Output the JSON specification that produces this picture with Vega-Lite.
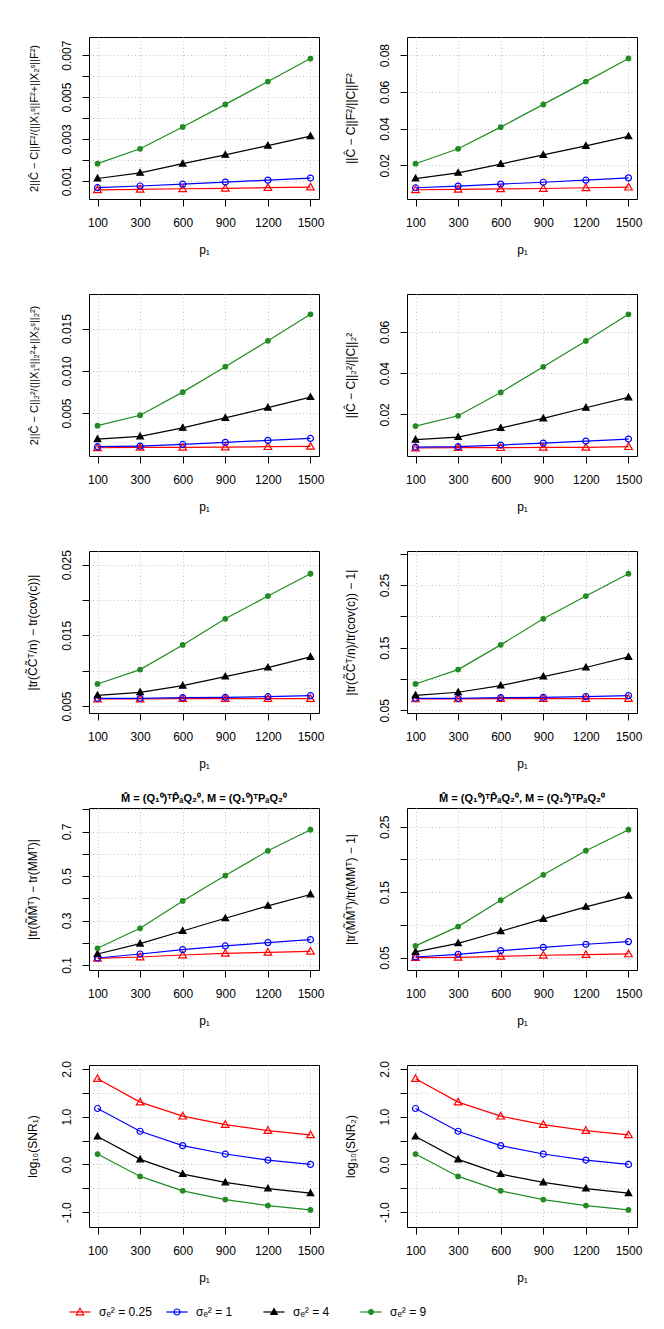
{
"$schema": "https://vega.github.io/schema/vega-lite/v6.json",
"padding": {"left": 25, "top": 36, "right": 10, "bottom": 5},
"background": "white",
"datasets": {"d": [
{"k":1,"s":"0.25","p":100,"v":0.00057},{"k":1,"s":"0.25","p":300,"v":0.00059},{"k":1,"s":"0.25","p":600,"v":0.00062},{"k":1,"s":"0.25","p":900,"v":0.00064},{"k":1,"s":"0.25","p":1200,"v":0.00067},{"k":1,"s":"0.25","p":1500,"v":0.0007},
{"k":1,"s":"1","p":100,"v":0.00067},{"k":1,"s":"1","p":300,"v":0.00075},{"k":1,"s":"1","p":600,"v":0.00084},{"k":1,"s":"1","p":900,"v":0.00094},{"k":1,"s":"1","p":1200,"v":0.00103},{"k":1,"s":"1","p":1500,"v":0.00113},
{"k":1,"s":"4","p":100,"v":0.00111},{"k":1,"s":"4","p":300,"v":0.00138},{"k":1,"s":"4","p":600,"v":0.00182},{"k":1,"s":"4","p":900,"v":0.00224},{"k":1,"s":"4","p":1200,"v":0.00268},{"k":1,"s":"4","p":1500,"v":0.00313},
{"k":1,"s":"9","p":100,"v":0.00182},{"k":1,"s":"9","p":300,"v":0.00253},{"k":1,"s":"9","p":600,"v":0.00357},{"k":1,"s":"9","p":900,"v":0.00465},{"k":1,"s":"9","p":1200,"v":0.00574},{"k":1,"s":"9","p":1500,"v":0.00684},
{"k":2,"s":"0.25","p":100,"v":0.0067},{"k":2,"s":"0.25","p":300,"v":0.0069},{"k":2,"s":"0.25","p":600,"v":0.0072},{"k":2,"s":"0.25","p":900,"v":0.0074},{"k":2,"s":"0.25","p":1200,"v":0.0078},{"k":2,"s":"0.25","p":1500,"v":0.0081},
{"k":2,"s":"1","p":100,"v":0.0078},{"k":2,"s":"1","p":300,"v":0.0087},{"k":2,"s":"1","p":600,"v":0.0098},{"k":2,"s":"1","p":900,"v":0.0108},{"k":2,"s":"1","p":1200,"v":0.0119},{"k":2,"s":"1","p":1500,"v":0.0132},
{"k":2,"s":"4","p":100,"v":0.0128},{"k":2,"s":"4","p":300,"v":0.0159},{"k":2,"s":"4","p":600,"v":0.0207},{"k":2,"s":"4","p":900,"v":0.0257},{"k":2,"s":"4","p":1200,"v":0.0306},{"k":2,"s":"4","p":1500,"v":0.0358},
{"k":2,"s":"9","p":100,"v":0.0209},{"k":2,"s":"9","p":300,"v":0.029},{"k":2,"s":"9","p":600,"v":0.0408},{"k":2,"s":"9","p":900,"v":0.0532},{"k":2,"s":"9","p":1200,"v":0.0656},{"k":2,"s":"9","p":1500,"v":0.0782},
{"k":3,"s":"0.25","p":100,"v":0.00088},{"k":3,"s":"0.25","p":300,"v":0.00092},{"k":3,"s":"0.25","p":600,"v":0.00092},{"k":3,"s":"0.25","p":900,"v":0.00096},{"k":3,"s":"0.25","p":1200,"v":0.001},{"k":3,"s":"0.25","p":1500,"v":0.00104},
{"k":3,"s":"1","p":100,"v":0.001},{"k":3,"s":"1","p":300,"v":0.00108},{"k":3,"s":"1","p":600,"v":0.00127},{"k":3,"s":"1","p":900,"v":0.00151},{"k":3,"s":"1","p":1200,"v":0.00175},{"k":3,"s":"1","p":1500,"v":0.00198},
{"k":3,"s":"4","p":100,"v":0.0019},{"k":3,"s":"4","p":300,"v":0.00222},{"k":3,"s":"4","p":600,"v":0.00324},{"k":3,"s":"4","p":900,"v":0.00441},{"k":3,"s":"4","p":1200,"v":0.00563},{"k":3,"s":"4","p":1500,"v":0.00688},
{"k":3,"s":"9","p":100,"v":0.0035},{"k":3,"s":"9","p":300,"v":0.00473},{"k":3,"s":"9","p":600,"v":0.00747},{"k":3,"s":"9","p":900,"v":0.01049},{"k":3,"s":"9","p":1200,"v":0.01355},{"k":3,"s":"9","p":1500,"v":0.01669},
{"k":4,"s":"0.25","p":100,"v":0.00371},{"k":4,"s":"0.25","p":300,"v":0.00387},{"k":4,"s":"0.25","p":600,"v":0.00387},{"k":4,"s":"0.25","p":900,"v":0.00403},{"k":4,"s":"0.25","p":1200,"v":0.00403},{"k":4,"s":"0.25","p":1500,"v":0.00435},
{"k":4,"s":"1","p":100,"v":0.00419},{"k":4,"s":"1","p":300,"v":0.00435},{"k":4,"s":"1","p":600,"v":0.00516},{"k":4,"s":"1","p":900,"v":0.00613},{"k":4,"s":"1","p":1200,"v":0.0071},{"k":4,"s":"1","p":1500,"v":0.00806},
{"k":4,"s":"4","p":100,"v":0.00774},{"k":4,"s":"4","p":300,"v":0.00903},{"k":4,"s":"4","p":600,"v":0.01339},{"k":4,"s":"4","p":900,"v":0.01806},{"k":4,"s":"4","p":1200,"v":0.02323},{"k":4,"s":"4","p":1500,"v":0.02823},
{"k":4,"s":"9","p":100,"v":0.01435},{"k":4,"s":"9","p":300,"v":0.01935},{"k":4,"s":"9","p":600,"v":0.03065},{"k":4,"s":"9","p":900,"v":0.0431},{"k":4,"s":"9","p":1200,"v":0.05565},{"k":4,"s":"9","p":1500,"v":0.06855},
{"k":5,"s":"0.25","p":100,"v":0.00599},{"k":5,"s":"0.25","p":300,"v":0.00599},{"k":5,"s":"0.25","p":600,"v":0.00604},{"k":5,"s":"0.25","p":900,"v":0.00604},{"k":5,"s":"0.25","p":1200,"v":0.00604},{"k":5,"s":"0.25","p":1500,"v":0.00604},
{"k":5,"s":"1","p":100,"v":0.00609},{"k":5,"s":"1","p":300,"v":0.00609},{"k":5,"s":"1","p":600,"v":0.00618},{"k":5,"s":"1","p":900,"v":0.00623},{"k":5,"s":"1","p":1200,"v":0.00632},{"k":5,"s":"1","p":1500,"v":0.00647},
{"k":5,"s":"4","p":100,"v":0.00651},{"k":5,"s":"4","p":300,"v":0.00694},{"k":5,"s":"4","p":600,"v":0.00788},{"k":5,"s":"4","p":900,"v":0.00916},{"k":5,"s":"4","p":1200,"v":0.01044},{"k":5,"s":"4","p":1500,"v":0.01195},
{"k":5,"s":"9","p":100,"v":0.00812},{"k":5,"s":"9","p":300,"v":0.01015},{"k":5,"s":"9","p":600,"v":0.01365},{"k":5,"s":"9","p":900,"v":0.01734},{"k":5,"s":"9","p":1200,"v":0.02056},{"k":5,"s":"9","p":1500,"v":0.02372},
{"k":6,"s":"0.25","p":100,"v":0.0681},{"k":6,"s":"0.25","p":300,"v":0.0681},{"k":6,"s":"0.25","p":600,"v":0.0687},{"k":6,"s":"0.25","p":900,"v":0.0687},{"k":6,"s":"0.25","p":1200,"v":0.0687},{"k":6,"s":"0.25","p":1500,"v":0.0687},
{"k":6,"s":"1","p":100,"v":0.0692},{"k":6,"s":"1","p":300,"v":0.0692},{"k":6,"s":"1","p":600,"v":0.0703},{"k":6,"s":"1","p":900,"v":0.0708},{"k":6,"s":"1","p":1200,"v":0.0719},{"k":6,"s":"1","p":1500,"v":0.0735},
{"k":6,"s":"4","p":100,"v":0.074},{"k":6,"s":"4","p":300,"v":0.0788},{"k":6,"s":"4","p":600,"v":0.0895},{"k":6,"s":"4","p":900,"v":0.1039},{"k":6,"s":"4","p":1200,"v":0.1183},{"k":6,"s":"4","p":1500,"v":0.1353},
{"k":6,"s":"9","p":100,"v":0.0921},{"k":6,"s":"9","p":300,"v":0.115},{"k":6,"s":"9","p":600,"v":0.1545},{"k":6,"s":"9","p":900,"v":0.1961},{"k":6,"s":"9","p":1200,"v":0.2324},{"k":6,"s":"9","p":1500,"v":0.2681},
{"k":7,"s":"0.25","p":100,"v":0.13},{"k":7,"s":"0.25","p":300,"v":0.136},{"k":7,"s":"0.25","p":600,"v":0.145},{"k":7,"s":"0.25","p":900,"v":0.1525},{"k":7,"s":"0.25","p":1200,"v":0.157},{"k":7,"s":"0.25","p":1500,"v":0.1616},
{"k":7,"s":"1","p":100,"v":0.1315},{"k":7,"s":"1","p":300,"v":0.1495},{"k":7,"s":"1","p":600,"v":0.169},{"k":7,"s":"1","p":900,"v":0.1856},{"k":7,"s":"1","p":1200,"v":0.2006},{"k":7,"s":"1","p":1500,"v":0.214},
{"k":7,"s":"4","p":100,"v":0.1495},{"k":7,"s":"4","p":300,"v":0.196},{"k":7,"s":"4","p":600,"v":0.253},{"k":7,"s":"4","p":900,"v":0.31},{"k":7,"s":"4","p":1200,"v":0.366},{"k":7,"s":"4","p":1500,"v":0.417},
{"k":7,"s":"9","p":100,"v":0.175},{"k":7,"s":"9","p":300,"v":0.265},{"k":7,"s":"9","p":600,"v":0.388},{"k":7,"s":"9","p":900,"v":0.502},{"k":7,"s":"9","p":1200,"v":0.6135},{"k":7,"s":"9","p":1500,"v":0.708},
{"k":8,"s":"0.25","p":100,"v":0.05},{"k":8,"s":"0.25","p":300,"v":0.0505},{"k":8,"s":"0.25","p":600,"v":0.052},{"k":8,"s":"0.25","p":900,"v":0.0536},{"k":8,"s":"0.25","p":1200,"v":0.0546},{"k":8,"s":"0.25","p":1500,"v":0.0556},
{"k":8,"s":"1","p":100,"v":0.051},{"k":8,"s":"1","p":300,"v":0.0551},{"k":8,"s":"1","p":600,"v":0.0607},{"k":8,"s":"1","p":900,"v":0.0658},{"k":8,"s":"1","p":1200,"v":0.0704},{"k":8,"s":"1","p":1500,"v":0.0745},
{"k":8,"s":"4","p":100,"v":0.0587},{"k":8,"s":"4","p":300,"v":0.0719},{"k":8,"s":"4","p":600,"v":0.0903},{"k":8,"s":"4","p":900,"v":0.1092},{"k":8,"s":"4","p":1200,"v":0.1276},{"k":8,"s":"4","p":1500,"v":0.1444},
{"k":8,"s":"9","p":100,"v":0.0679},{"k":8,"s":"9","p":300,"v":0.0974},{"k":8,"s":"9","p":600,"v":0.1378},{"k":8,"s":"9","p":900,"v":0.1765},{"k":8,"s":"9","p":1200,"v":0.2133},{"k":8,"s":"9","p":1500,"v":0.2454},
{"k":9,"s":"0.25","p":100,"v":1.794},{"k":9,"s":"0.25","p":300,"v":1.303},{"k":9,"s":"0.25","p":600,"v":1.009},{"k":9,"s":"0.25","p":900,"v":0.834},{"k":9,"s":"0.25","p":1200,"v":0.708},{"k":9,"s":"0.25","p":1500,"v":0.617},
{"k":9,"s":"1","p":100,"v":1.17},{"k":9,"s":"1","p":300,"v":0.694},{"k":9,"s":"1","p":600,"v":0.392},{"k":9,"s":"1","p":900,"v":0.217},{"k":9,"s":"1","p":1200,"v":0.091},{"k":9,"s":"1","p":1500,"v":0.0},
{"k":9,"s":"4","p":100,"v":0.582},{"k":9,"s":"4","p":300,"v":0.105},{"k":9,"s":"4","p":600,"v":-0.203},{"k":9,"s":"4","p":900,"v":-0.378},{"k":9,"s":"4","p":1200,"v":-0.505},{"k":9,"s":"4","p":1500,"v":-0.603},
{"k":9,"s":"9","p":100,"v":0.217},{"k":9,"s":"9","p":300,"v":-0.252},{"k":9,"s":"9","p":600,"v":-0.554},{"k":9,"s":"9","p":900,"v":-0.736},{"k":9,"s":"9","p":1200,"v":-0.862},{"k":9,"s":"9","p":1500,"v":-0.953},
{"k":10,"s":"0.25","p":100,"v":1.794},{"k":10,"s":"0.25","p":300,"v":1.303},{"k":10,"s":"0.25","p":600,"v":1.009},{"k":10,"s":"0.25","p":900,"v":0.834},{"k":10,"s":"0.25","p":1200,"v":0.708},{"k":10,"s":"0.25","p":1500,"v":0.617},
{"k":10,"s":"1","p":100,"v":1.17},{"k":10,"s":"1","p":300,"v":0.694},{"k":10,"s":"1","p":600,"v":0.392},{"k":10,"s":"1","p":900,"v":0.217},{"k":10,"s":"1","p":1200,"v":0.091},{"k":10,"s":"1","p":1500,"v":0.0},
{"k":10,"s":"4","p":100,"v":0.582},{"k":10,"s":"4","p":300,"v":0.105},{"k":10,"s":"4","p":600,"v":-0.203},{"k":10,"s":"4","p":900,"v":-0.378},{"k":10,"s":"4","p":1200,"v":-0.505},{"k":10,"s":"4","p":1500,"v":-0.603},
{"k":10,"s":"9","p":100,"v":0.217},{"k":10,"s":"9","p":300,"v":-0.252},{"k":10,"s":"9","p":600,"v":-0.554},{"k":10,"s":"9","p":900,"v":-0.736},{"k":10,"s":"9","p":1200,"v":-0.862},{"k":10,"s":"9","p":1500,"v":-0.953}
],
"leg": [
{"s":"0.25","label":"σₑ² = 0.25"},{"s":"1","label":"σₑ² = 1"},{"s":"4","label":"σₑ² = 4"},{"s":"9","label":"σₑ² = 9"}
]},
"spacing": 18,
"resolve": {"scale": {"stroke": "shared", "fill": "shared", "shape": "shared"}},
"vconcat": [
{"data": {"name": "d"},
"columns": 2,
"bounds": "flush",
"spacing": {"row": 95, "column": 88},
"resolve": {"scale": {"x": "independent", "y": "independent", "stroke": "shared", "fill": "shared", "shape": "shared"}},
"concat": [
{"width": 230, "height": 162, "transform": [{"filter": "datum.k == 1"}],
 "encoding": {
  "x": {"field": "p", "type": "ordinal", "scale": {"type": "point", "padding": 0.2, "domain": [100,300,600,900,1200,1500]}, "axis": {"title": "p₁"}},
  "y": {"field": "v", "type": "quantitative", "scale": {"domain": [0.00013, 0.00787], "nice": false, "zero": false}, "axis": {"title": "2||Ĉ − C||F²/(||X₁ˢ||F²+||X₂ˢ||F²)", "titleFontSize": 11, "values": [0.001,0.002,0.003,0.004,0.005,0.006,0.007], "labelExpr": "round(datum.value*1000) % 2 == 1 ? format(datum.value, '.3f') : ''"}},
  "stroke": {"field": "s", "type": "nominal", "scale": {"domain": ["0.25","1","4","9"], "range": ["#FF0000","#0000FF","#000000","#228B22"]}, "legend": null}
 },
 "layer": [
  {"mark": {"type": "line", "strokeWidth": 1.2}},
  {"mark": {"type": "point", "filled": true, "size": 64, "strokeWidth": 1.2, "opacity": 1},
   "encoding": {
    "fill": {"field": "s", "type": "nominal", "scale": {"domain": ["0.25","1","4","9"], "range": ["transparent","transparent","#000000","#228B22"]}, "legend": null},
    "shape": {"field": "s", "type": "nominal", "scale": {"domain": ["0.25","1","4","9"], "range": ["M0,-0.95L0.95,0.7L-0.95,0.7Z","M0.75,0A0.75,0.75,0,1,1,-0.75,0A0.75,0.75,0,1,1,0.75,0Z","M0,-0.85L0.82,0.6L-0.82,0.6Z","M0.57,0A0.57,0.57,0,1,1,-0.57,0A0.57,0.57,0,1,1,0.57,0Z"]}, "legend": null}}}
 ]},
{"width": 230, "height": 162, "transform": [{"filter": "datum.k == 2"}],
 "encoding": {
  "x": {"field": "p", "type": "ordinal", "scale": {"type": "point", "padding": 0.2, "domain": [100,300,600,900,1200,1500]}, "axis": {"title": "p₁"}},
  "y": {"field": "v", "type": "quantitative", "scale": {"domain": [0.00167, 0.0899], "nice": false, "zero": false}, "axis": {"title": "||Ĉ − C||F²/||C||F²", "values": [0.02,0.04,0.06,0.08], "labelExpr": "format(datum.value, '.2f')"}},
  "stroke": {"field": "s", "type": "nominal", "scale": {"domain": ["0.25","1","4","9"], "range": ["#FF0000","#0000FF","#000000","#228B22"]}, "legend": null}
 },
 "layer": [
  {"mark": {"type": "line", "strokeWidth": 1.2}},
  {"mark": {"type": "point", "filled": true, "size": 64, "strokeWidth": 1.2, "opacity": 1},
   "encoding": {
    "fill": {"field": "s", "type": "nominal", "scale": {"domain": ["0.25","1","4","9"], "range": ["transparent","transparent","#000000","#228B22"]}, "legend": null},
    "shape": {"field": "s", "type": "nominal", "scale": {"domain": ["0.25","1","4","9"], "range": ["M0,-0.95L0.95,0.7L-0.95,0.7Z","M0.75,0A0.75,0.75,0,1,1,-0.75,0A0.75,0.75,0,1,1,0.75,0Z","M0,-0.85L0.82,0.6L-0.82,0.6Z","M0.57,0A0.57,0.57,0,1,1,-0.57,0A0.57,0.57,0,1,1,0.57,0Z"]}, "legend": null}}}
 ]},
{"width": 230, "height": 162, "transform": [{"filter": "datum.k == 3"}],
 "encoding": {
  "x": {"field": "p", "type": "ordinal", "scale": {"type": "point", "padding": 0.2, "domain": [100,300,600,900,1200,1500]}, "axis": {"title": "p₁"}},
  "y": {"field": "v", "type": "quantitative", "scale": {"domain": [-0.0001, 0.0191], "nice": false, "zero": false}, "axis": {"title": "2||Ĉ − C||₂²/(||X₁ˢ||₂²+||X₂ˢ||₂²)", "titleFontSize": 11, "values": [0.005,0.01,0.015], "labelExpr": "format(datum.value, '.3f')"}},
  "stroke": {"field": "s", "type": "nominal", "scale": {"domain": ["0.25","1","4","9"], "range": ["#FF0000","#0000FF","#000000","#228B22"]}, "legend": null}
 },
 "layer": [
  {"mark": {"type": "line", "strokeWidth": 1.2}},
  {"mark": {"type": "point", "filled": true, "size": 64, "strokeWidth": 1.2, "opacity": 1},
   "encoding": {
    "fill": {"field": "s", "type": "nominal", "scale": {"domain": ["0.25","1","4","9"], "range": ["transparent","transparent","#000000","#228B22"]}, "legend": null},
    "shape": {"field": "s", "type": "nominal", "scale": {"domain": ["0.25","1","4","9"], "range": ["M0,-0.95L0.95,0.7L-0.95,0.7Z","M0.75,0A0.75,0.75,0,1,1,-0.75,0A0.75,0.75,0,1,1,0.75,0Z","M0,-0.85L0.82,0.6L-0.82,0.6Z","M0.57,0A0.57,0.57,0,1,1,-0.57,0A0.57,0.57,0,1,1,0.57,0Z"]}, "legend": null}}}
 ]},
{"width": 230, "height": 162, "transform": [{"filter": "datum.k == 4"}],
 "encoding": {
  "x": {"field": "p", "type": "ordinal", "scale": {"type": "point", "padding": 0.2, "domain": [100,300,600,900,1200,1500]}, "axis": {"title": "p₁"}},
  "y": {"field": "v", "type": "quantitative", "scale": {"domain": [-0.00016, 0.0784], "nice": false, "zero": false}, "axis": {"title": "||Ĉ − C||₂²/||C||₂²", "values": [0.02,0.04,0.06], "labelExpr": "format(datum.value, '.2f')"}},
  "stroke": {"field": "s", "type": "nominal", "scale": {"domain": ["0.25","1","4","9"], "range": ["#FF0000","#0000FF","#000000","#228B22"]}, "legend": null}
 },
 "layer": [
  {"mark": {"type": "line", "strokeWidth": 1.2}},
  {"mark": {"type": "point", "filled": true, "size": 64, "strokeWidth": 1.2, "opacity": 1},
   "encoding": {
    "fill": {"field": "s", "type": "nominal", "scale": {"domain": ["0.25","1","4","9"], "range": ["transparent","transparent","#000000","#228B22"]}, "legend": null},
    "shape": {"field": "s", "type": "nominal", "scale": {"domain": ["0.25","1","4","9"], "range": ["M0,-0.95L0.95,0.7L-0.95,0.7Z","M0.75,0A0.75,0.75,0,1,1,-0.75,0A0.75,0.75,0,1,1,0.75,0Z","M0,-0.85L0.82,0.6L-0.82,0.6Z","M0.57,0A0.57,0.57,0,1,1,-0.57,0A0.57,0.57,0,1,1,0.57,0Z"]}, "legend": null}}}
 ]},
{"width": 230, "height": 162, "transform": [{"filter": "datum.k == 5"}],
 "encoding": {
  "x": {"field": "p", "type": "ordinal", "scale": {"type": "point", "padding": 0.2, "domain": [100,300,600,900,1200,1500]}, "axis": {"title": "p₁"}},
  "y": {"field": "v", "type": "quantitative", "scale": {"domain": [0.00401, 0.02694], "nice": false, "zero": false}, "axis": {"title": "|tr(C̃C̃ᵀ/n) − tr(cov(c))|", "values": [0.005,0.01,0.015,0.02,0.025], "labelExpr": "round(datum.value*200) % 2 == 1 ? format(datum.value, '.3f') : ''"}},
  "stroke": {"field": "s", "type": "nominal", "scale": {"domain": ["0.25","1","4","9"], "range": ["#FF0000","#0000FF","#000000","#228B22"]}, "legend": null}
 },
 "layer": [
  {"mark": {"type": "line", "strokeWidth": 1.2}},
  {"mark": {"type": "point", "filled": true, "size": 64, "strokeWidth": 1.2, "opacity": 1},
   "encoding": {
    "fill": {"field": "s", "type": "nominal", "scale": {"domain": ["0.25","1","4","9"], "range": ["transparent","transparent","#000000","#228B22"]}, "legend": null},
    "shape": {"field": "s", "type": "nominal", "scale": {"domain": ["0.25","1","4","9"], "range": ["M0,-0.95L0.95,0.7L-0.95,0.7Z","M0.75,0A0.75,0.75,0,1,1,-0.75,0A0.75,0.75,0,1,1,0.75,0Z","M0,-0.85L0.82,0.6L-0.82,0.6Z","M0.57,0A0.57,0.57,0,1,1,-0.57,0A0.57,0.57,0,1,1,0.57,0Z"]}, "legend": null}}}
 ]},
{"width": 230, "height": 162, "transform": [{"filter": "datum.k == 6"}],
 "encoding": {
  "x": {"field": "p", "type": "ordinal", "scale": {"type": "point", "padding": 0.2, "domain": [100,300,600,900,1200,1500]}, "axis": {"title": "p₁"}},
  "y": {"field": "v", "type": "quantitative", "scale": {"domain": [0.0457, 0.3044], "nice": false, "zero": false}, "axis": {"title": "|tr(C̃C̃ᵀ/n)/tr(cov(c)) − 1|", "values": [0.05,0.1,0.15,0.2,0.25,0.3], "labelExpr": "round(datum.value*20) % 2 == 1 ? format(datum.value, '.2f') : ''"}},
  "stroke": {"field": "s", "type": "nominal", "scale": {"domain": ["0.25","1","4","9"], "range": ["#FF0000","#0000FF","#000000","#228B22"]}, "legend": null}
 },
 "layer": [
  {"mark": {"type": "line", "strokeWidth": 1.2}},
  {"mark": {"type": "point", "filled": true, "size": 64, "strokeWidth": 1.2, "opacity": 1},
   "encoding": {
    "fill": {"field": "s", "type": "nominal", "scale": {"domain": ["0.25","1","4","9"], "range": ["transparent","transparent","#000000","#228B22"]}, "legend": null},
    "shape": {"field": "s", "type": "nominal", "scale": {"domain": ["0.25","1","4","9"], "range": ["M0,-0.95L0.95,0.7L-0.95,0.7Z","M0.75,0A0.75,0.75,0,1,1,-0.75,0A0.75,0.75,0,1,1,0.75,0Z","M0,-0.85L0.82,0.6L-0.82,0.6Z","M0.57,0A0.57,0.57,0,1,1,-0.57,0A0.57,0.57,0,1,1,0.57,0Z"]}, "legend": null}}}
 ]},
{"width": 230, "height": 162, "transform": [{"filter": "datum.k == 7"}],
 "title": {"text": "M̂ = (Q₁⁰)ᵀP̂ₐQ₂⁰,  M = (Q₁⁰)ᵀPₐQ₂⁰", "fontSize": 11, "fontWeight": "bold", "anchor": "middle", "offset": 4, "font": "Liberation Sans", "color": "black"},
 "encoding": {
  "x": {"field": "p", "type": "ordinal", "scale": {"type": "point", "padding": 0.2, "domain": [100,300,600,900,1200,1500]}, "axis": {"title": "p₁"}},
  "y": {"field": "v", "type": "quantitative", "scale": {"domain": [0.0775, 0.8057], "nice": false, "zero": false}, "axis": {"title": "|tr(M̃M̃ᵀ) − tr(MMᵀ)|", "values": [0.1,0.2,0.3,0.4,0.5,0.6,0.7,0.8], "labelExpr": "round(datum.value*10) % 2 == 1 ? format(datum.value, '.1f') : ''"}},
  "stroke": {"field": "s", "type": "nominal", "scale": {"domain": ["0.25","1","4","9"], "range": ["#FF0000","#0000FF","#000000","#228B22"]}, "legend": null}
 },
 "layer": [
  {"mark": {"type": "line", "strokeWidth": 1.2}},
  {"mark": {"type": "point", "filled": true, "size": 64, "strokeWidth": 1.2, "opacity": 1},
   "encoding": {
    "fill": {"field": "s", "type": "nominal", "scale": {"domain": ["0.25","1","4","9"], "range": ["transparent","transparent","#000000","#228B22"]}, "legend": null},
    "shape": {"field": "s", "type": "nominal", "scale": {"domain": ["0.25","1","4","9"], "range": ["M0,-0.95L0.95,0.7L-0.95,0.7Z","M0.75,0A0.75,0.75,0,1,1,-0.75,0A0.75,0.75,0,1,1,0.75,0Z","M0,-0.85L0.82,0.6L-0.82,0.6Z","M0.57,0A0.57,0.57,0,1,1,-0.57,0A0.57,0.57,0,1,1,0.57,0Z"]}, "legend": null}}}
 ]},
{"width": 230, "height": 162, "transform": [{"filter": "datum.k == 8"}],
 "title": {"text": "M̂ = (Q₁⁰)ᵀP̂ₐQ₂⁰,  M = (Q₁⁰)ᵀPₐQ₂⁰", "fontSize": 11, "fontWeight": "bold", "anchor": "middle", "offset": 4, "font": "Liberation Sans", "color": "black"},
 "encoding": {
  "x": {"field": "p", "type": "ordinal", "scale": {"type": "point", "padding": 0.2, "domain": [100,300,600,900,1200,1500]}, "axis": {"title": "p₁"}},
  "y": {"field": "v", "type": "quantitative", "scale": {"domain": [0.0311, 0.2786], "nice": false, "zero": false}, "axis": {"title": "|tr(M̃M̃ᵀ)/tr(MMᵀ) − 1|", "values": [0.05,0.1,0.15,0.2,0.25], "labelExpr": "round(datum.value*20) % 2 == 1 ? format(datum.value, '.2f') : ''"}},
  "stroke": {"field": "s", "type": "nominal", "scale": {"domain": ["0.25","1","4","9"], "range": ["#FF0000","#0000FF","#000000","#228B22"]}, "legend": null}
 },
 "layer": [
  {"mark": {"type": "line", "strokeWidth": 1.2}},
  {"mark": {"type": "point", "filled": true, "size": 64, "strokeWidth": 1.2, "opacity": 1},
   "encoding": {
    "fill": {"field": "s", "type": "nominal", "scale": {"domain": ["0.25","1","4","9"], "range": ["transparent","transparent","#000000","#228B22"]}, "legend": null},
    "shape": {"field": "s", "type": "nominal", "scale": {"domain": ["0.25","1","4","9"], "range": ["M0,-0.95L0.95,0.7L-0.95,0.7Z","M0.75,0A0.75,0.75,0,1,1,-0.75,0A0.75,0.75,0,1,1,0.75,0Z","M0,-0.85L0.82,0.6L-0.82,0.6Z","M0.57,0A0.57,0.57,0,1,1,-0.57,0A0.57,0.57,0,1,1,0.57,0Z"]}, "legend": null}}}
 ]},
{"width": 230, "height": 162, "transform": [{"filter": "datum.k == 9"}],
 "encoding": {
  "x": {"field": "p", "type": "ordinal", "scale": {"type": "point", "padding": 0.2, "domain": [100,300,600,900,1200,1500]}, "axis": {"title": "p₁"}},
  "y": {"field": "v", "type": "quantitative", "scale": {"domain": [-1.31, 2.08], "nice": false, "zero": false}, "axis": {"title": "log₁₀(SNR₁)", "values": [-1,-0.5,0,0.5,1,1.5,2], "labelExpr": "round(datum.value*2) % 2 == 0 ? replace(format(datum.value, '.1f'), '−', '-') : ''"}},
  "stroke": {"field": "s", "type": "nominal", "scale": {"domain": ["0.25","1","4","9"], "range": ["#FF0000","#0000FF","#000000","#228B22"]}, "legend": null}
 },
 "layer": [
  {"mark": {"type": "line", "strokeWidth": 1.2}},
  {"mark": {"type": "point", "filled": true, "size": 64, "strokeWidth": 1.2, "opacity": 1},
   "encoding": {
    "fill": {"field": "s", "type": "nominal", "scale": {"domain": ["0.25","1","4","9"], "range": ["transparent","transparent","#000000","#228B22"]}, "legend": null},
    "shape": {"field": "s", "type": "nominal", "scale": {"domain": ["0.25","1","4","9"], "range": ["M0,-0.95L0.95,0.7L-0.95,0.7Z","M0.75,0A0.75,0.75,0,1,1,-0.75,0A0.75,0.75,0,1,1,0.75,0Z","M0,-0.85L0.82,0.6L-0.82,0.6Z","M0.57,0A0.57,0.57,0,1,1,-0.57,0A0.57,0.57,0,1,1,0.57,0Z"]}, "legend": null}}}
 ]},
{"width": 230, "height": 162, "transform": [{"filter": "datum.k == 10"}],
 "encoding": {
  "x": {"field": "p", "type": "ordinal", "scale": {"type": "point", "padding": 0.2, "domain": [100,300,600,900,1200,1500]}, "axis": {"title": "p₁"}},
  "y": {"field": "v", "type": "quantitative", "scale": {"domain": [-1.31, 2.08], "nice": false, "zero": false}, "axis": {"title": "log₁₀(SNR₂)", "values": [-1,-0.5,0,0.5,1,1.5,2], "labelExpr": "round(datum.value*2) % 2 == 0 ? replace(format(datum.value, '.1f'), '−', '-') : ''"}},
  "stroke": {"field": "s", "type": "nominal", "scale": {"domain": ["0.25","1","4","9"], "range": ["#FF0000","#0000FF","#000000","#228B22"]}, "legend": null}
 },
 "layer": [
  {"mark": {"type": "line", "strokeWidth": 1.2}},
  {"mark": {"type": "point", "filled": true, "size": 64, "strokeWidth": 1.2, "opacity": 1},
   "encoding": {
    "fill": {"field": "s", "type": "nominal", "scale": {"domain": ["0.25","1","4","9"], "range": ["transparent","transparent","#000000","#228B22"]}, "legend": null},
    "shape": {"field": "s", "type": "nominal", "scale": {"domain": ["0.25","1","4","9"], "range": ["M0,-0.95L0.95,0.7L-0.95,0.7Z","M0.75,0A0.75,0.75,0,1,1,-0.75,0A0.75,0.75,0,1,1,0.75,0Z","M0,-0.85L0.82,0.6L-0.82,0.6Z","M0.57,0A0.57,0.57,0,1,1,-0.57,0A0.57,0.57,0,1,1,0.57,0Z"]}, "legend": null}}}
 ]}
]},
{"width": 393, "height": 20,
 "data": {"name": "leg"},
 "view": {"stroke": null},
 "encoding": {
  "x": {"field": "s", "type": "nominal", "scale": {"type": "point", "padding": 0, "range": [-9, 282], "domain": ["0.25","1","4","9"]}, "axis": null}
 },
 "layer": [
  {"mark": {"type": "tick", "orient": "horizontal", "size": 20, "thickness": 0.01, "fill": "transparent", "strokeWidth": 1.2, "opacity": 1},
   "encoding": {"stroke": {"field": "s", "type": "nominal", "scale": {"domain": ["0.25","1","4","9"], "range": ["#FF0000","#0000FF","#000000","#228B22"]}, "legend": null}}},
  {"mark": {"type": "point", "filled": true, "size": 64, "strokeWidth": 1.2, "opacity": 1},
   "encoding": {
    "stroke": {"field": "s", "type": "nominal", "scale": {"domain": ["0.25","1","4","9"], "range": ["#FF0000","#0000FF","#000000","#228B22"]}, "legend": null},
    "fill": {"field": "s", "type": "nominal", "scale": {"domain": ["0.25","1","4","9"], "range": ["transparent","transparent","#000000","#228B22"]}, "legend": null},
    "shape": {"field": "s", "type": "nominal", "scale": {"domain": ["0.25","1","4","9"], "range": ["M0,-0.95L0.95,0.7L-0.95,0.7Z","M0.75,0A0.75,0.75,0,1,1,-0.75,0A0.75,0.75,0,1,1,0.75,0Z","M0,-0.85L0.82,0.6L-0.82,0.6Z","M0.57,0A0.57,0.57,0,1,1,-0.57,0A0.57,0.57,0,1,1,0.57,0Z"]}, "legend": null}}},
  {"mark": {"type": "text", "align": "left", "baseline": "middle", "dx": 19, "fontSize": 12, "font": "Liberation Sans", "color": "black"},
   "encoding": {"text": {"field": "label"}}}
 ]}
],
"config": {
 "font": "Liberation Sans",
 "view": {"stroke": "black", "strokeWidth": 1},
 "axis": {"domain": false, "grid": true, "gridColor": "#c4c4c4", "gridDash": [1, 2.5], "gridWidth": 1, "tickColor": "black", "tickSize": 7, "tickWidth": 1, "labelFont": "Liberation Sans", "labelFontSize": 12, "labelColor": "black", "titleFont": "Liberation Sans", "titleFontSize": 12, "titleFontWeight": "normal", "titleColor": "black", "labelOverlap": false},
 "axisY": {"labelAngle": -90, "labelAlign": "center", "labelBaseline": "bottom", "labelPadding": 9, "titlePadding": 21},
 "axisX": {"labelAngle": 0, "labelPadding": 11, "titlePadding": 16}
}
}
